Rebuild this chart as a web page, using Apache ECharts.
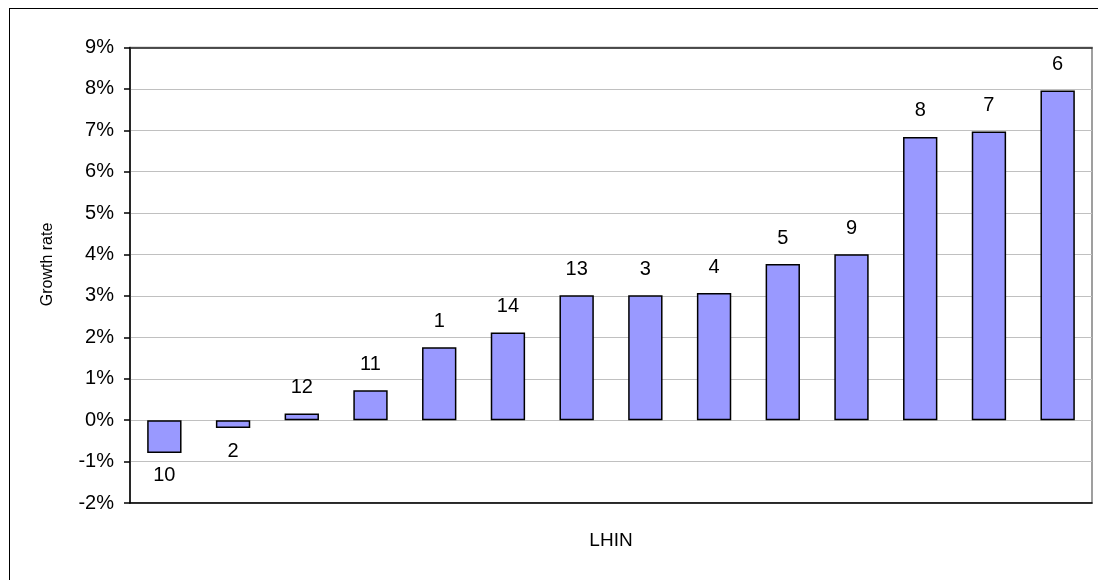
<!DOCTYPE html>
<html>
<head>
<meta charset="utf-8">
<script src="https://cdn.jsdelivr.net/npm/echarts@6/dist/echarts.min.js"></script>
<style>
html,body{margin:0;padding:0;background:#fff;width:1098px;height:580px;overflow:hidden;}
#frame{position:absolute;left:9px;top:8px;width:1200px;height:700px;border:1.5px solid #000;box-sizing:border-box;}
#chart{position:absolute;left:0;top:0;width:1098px;height:580px;}
</style>
</head>
<body>
<div id="frame"></div>
<div id="chart"></div>
<script>
const categories = ['10','2','12','11','1','14','13','3','4','5','9','8','7','6'];
const growthRates = [-0.79, -0.19, 0.16, 0.72, 1.76, 2.12, 3.02, 3.02, 3.07, 3.77, 4.01, 6.84, 6.97, 7.96];
const yMin = -2, yMax = 9, yStep = 1;
const yTitle = 'Growth rate';
const xTitle = 'LHIN';

const chart = echarts.init(document.getElementById('chart'), null, {renderer: 'canvas'});
const font = 'Liberation Sans, Arial, sans-serif';
chart.setOption({
  animation: false,
  backgroundColor: 'transparent',
  grid: {left: 130, right: 6, top: 47.5, bottom: 77, show: true, borderColor: '#808080', borderWidth: 1.5, containLabel: false},
  graphic: [{
    type: 'text',
    x: 47.5, y: 264.5,
    rotation: Math.PI / 2,
    style: {text: yTitle, font: '16px ' + font, fill: '#000', align: 'center', verticalAlign: 'middle'}
  }],
  xAxis: [{
    type: 'category',
    data: categories,
    name: xTitle,
    nameLocation: 'middle',
    nameGap: 28,
    nameTextStyle: {fontFamily: font, fontSize: 19, color: '#000'},
    axisLine: {show: true, onZero: false, lineStyle: {color: '#000', width: 1.5}},
    axisTick: {show: false},
    axisLabel: {show: false},
    splitLine: {show: false}
  }, {
    type: 'category',
    data: categories,
    position: 'top',
    axisLine: {show: true, onZero: false, lineStyle: {color: '#222', width: 1.5}},
    axisTick: {show: false},
    axisLabel: {show: false}
  }],
  yAxis: {
    type: 'value',
    min: yMin, max: yMax, interval: yStep,
    axisLine: {show: true, lineStyle: {color: '#000', width: 1.5}},
    axisTick: {show: true, length: 6, lineStyle: {color: '#000', width: 1.5}},
    axisLabel: {formatter: v => v + '%', fontFamily: font, fontSize: 20, color: '#000', margin: 16},
    splitLine: {show: true, lineStyle: {color: '#c0c0c0', width: 1}}
  },
  series: [{
    type: 'bar',
    barWidth: '50%',
    data: growthRates.map((v, i) => ({
      value: v,
      label: {
        show: true,
        position: v < 0 ? 'bottom' : 'top',
        distance: v < 0 ? 13 : 16,
        formatter: categories[i]
      }
    })),
    itemStyle: {color: '#9999ff', borderColor: '#000', borderWidth: 1.5},
    label: {fontFamily: font, fontSize: 20, color: '#000'}
  }]
});
</script>
</body>
</html>
